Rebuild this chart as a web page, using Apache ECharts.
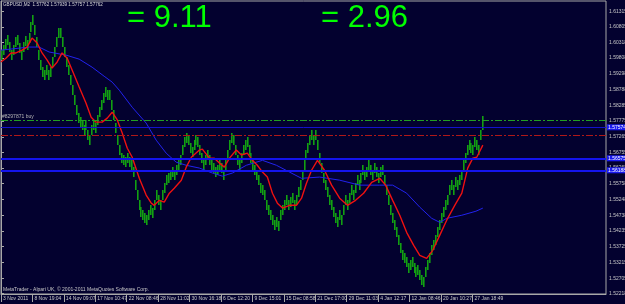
<!DOCTYPE html>
<html><head><meta charset="utf-8">
<script src="https://cdn.jsdelivr.net/npm/echarts@6/dist/echarts.min.js"></script>
<style>html,body{margin:0;padding:0;background:#03012f;}#c{width:625px;height:304px;}</style>
</head><body><div id="c"></div>
<script>
const titleText = 'GBPUSD,M2  1.57762 1.57939 1.57757 1.57762';
const bigTexts = ['= 9.11', '= 2.96'];
const copyrightText = 'MetaTrader - Alpari UK, \u00a9 2001-2011 MetaQuotes Software Corp.';
const orderLabel = '#8297871 buy';

const dateLabels = ['3 Nov 2011','8 Nov 19:04','14 Nov 09:07','17 Nov 10:47','22 Nov 08:46','28 Nov 11:02','30 Nov 16:18','6 Dec 12:20','9 Dec 15:01','15 Dec 08:58','21 Dec 17:00','29 Dec 11:03','4 Jan 12:17','12 Jan 08:46','20 Jan 10:27','27 Jan 18:49'];
const dateIndex = [0,16,32,48,64,80,96,112,128,144,160,176,192,208,224,240];
const yTicks = [1.52218,1.52705,1.53215,1.53725,1.54235,1.54738,1.55248,1.55758,1.56268,1.56755,1.57265,1.57775,1.58285,1.58788,1.59298,1.59808,1.60318,1.60805,1.61315];

const barLow = [
1.5974,1.5990,1.6010,1.6023,1.6000,1.5974,1.5990,1.6016,1.6023,1.5997,
1.5974,1.6000,1.6019,1.6006,1.6029,1.6064,1.6087,1.6055,1.6016,1.5974,
1.5942,1.5919,1.5910,1.5926,1.5910,1.5919,1.5952,1.5984,1.6016,1.6045,
1.6045,1.6016,1.5984,1.5952,1.5926,1.5894,1.5861,1.5829,1.5797,1.5771,
1.5758,1.5748,1.5732,1.5748,1.5716,1.5700,1.5732,1.5748,1.5739,1.5765,
1.5790,1.5813,1.5835,1.5855,1.5845,1.5845,1.5813,1.5781,1.5739,1.5700,
1.5668,1.5642,1.5635,1.5629,1.5642,1.5629,1.5619,1.5597,1.5555,1.5523,
1.5490,1.5468,1.5458,1.5448,1.5442,1.5458,1.5474,1.5465,1.5490,1.5523,
1.5506,1.5490,1.5523,1.5545,1.5571,1.5577,1.5587,1.5597,1.5587,1.5603,
1.5619,1.5635,1.5668,1.5694,1.5706,1.5700,1.5674,1.5661,1.5684,1.5700,
1.5694,1.5668,1.5642,1.5619,1.5635,1.5652,1.5635,1.5619,1.5610,1.5597,
1.5603,1.5619,1.5610,1.5587,1.5619,1.5652,1.5684,1.5706,1.5700,1.5668,
1.5635,1.5619,1.5642,1.5668,1.5684,1.5694,1.5668,1.5642,1.5619,1.5603,
1.5587,1.5571,1.5545,1.5539,1.5523,1.5490,1.5474,1.5458,1.5442,1.5426,
1.5436,1.5423,1.5458,1.5474,1.5490,1.5506,1.5490,1.5500,1.5513,1.5490,
1.5506,1.5532,1.5555,1.5587,1.5619,1.5652,1.5674,1.5700,1.5716,1.5700,
1.5716,1.5684,1.5642,1.5610,1.5577,1.5555,1.5532,1.5506,1.5490,1.5468,
1.5448,1.5436,1.5458,1.5442,1.5474,1.5506,1.5490,1.5513,1.5539,1.5523,
1.5545,1.5571,1.5555,1.5577,1.5603,1.5587,1.5597,1.5619,1.5603,1.5587,
1.5610,1.5597,1.5577,1.5597,1.5603,1.5571,1.5539,1.5506,1.5474,1.5448,
1.5426,1.5403,1.5377,1.5352,1.5329,1.5319,1.5306,1.5287,1.5297,1.5306,
1.5287,1.5274,1.5281,1.5264,1.5248,1.5242,1.5274,1.5297,1.5319,1.5345,
1.5361,1.5377,1.5403,1.5426,1.5448,1.5468,1.5490,1.5506,1.5539,1.5555,
1.5539,1.5564,1.5555,1.5571,1.5587,1.5619,1.5642,1.5668,1.5684,1.5674,
1.5668,1.5694,1.5684,1.5668,1.5716,1.5750];
const barHigh = [
1.6006,1.6022,1.6042,1.6055,1.6032,1.6006,1.6022,1.6048,1.6055,1.6029,
1.6006,1.6032,1.6051,1.6038,1.6061,1.6096,1.6119,1.6087,1.6048,1.6006,
1.5974,1.5951,1.5942,1.5958,1.5942,1.5951,1.5984,1.6016,1.6048,1.6077,
1.6077,1.6048,1.6016,1.5984,1.5958,1.5926,1.5893,1.5861,1.5829,1.5803,
1.5790,1.5780,1.5764,1.5780,1.5748,1.5732,1.5764,1.5780,1.5771,1.5797,
1.5822,1.5845,1.5867,1.5887,1.5877,1.5877,1.5845,1.5813,1.5771,1.5732,
1.5700,1.5674,1.5667,1.5661,1.5674,1.5661,1.5651,1.5629,1.5587,1.5555,
1.5522,1.5500,1.5490,1.5480,1.5474,1.5490,1.5506,1.5497,1.5522,1.5555,
1.5538,1.5522,1.5555,1.5577,1.5603,1.5609,1.5619,1.5629,1.5619,1.5635,
1.5651,1.5667,1.5700,1.5726,1.5738,1.5732,1.5706,1.5693,1.5716,1.5732,
1.5726,1.5700,1.5674,1.5651,1.5667,1.5684,1.5667,1.5651,1.5642,1.5629,
1.5635,1.5651,1.5642,1.5619,1.5651,1.5684,1.5716,1.5738,1.5732,1.5700,
1.5667,1.5651,1.5674,1.5700,1.5716,1.5726,1.5700,1.5674,1.5651,1.5635,
1.5619,1.5603,1.5577,1.5571,1.5555,1.5522,1.5506,1.5490,1.5474,1.5458,
1.5468,1.5455,1.5490,1.5506,1.5522,1.5538,1.5522,1.5532,1.5545,1.5522,
1.5538,1.5564,1.5587,1.5619,1.5651,1.5684,1.5706,1.5732,1.5748,1.5732,
1.5748,1.5716,1.5674,1.5642,1.5609,1.5587,1.5564,1.5538,1.5522,1.5500,
1.5480,1.5468,1.5490,1.5474,1.5506,1.5538,1.5522,1.5545,1.5571,1.5555,
1.5577,1.5603,1.5587,1.5609,1.5635,1.5619,1.5629,1.5651,1.5635,1.5619,
1.5642,1.5629,1.5609,1.5629,1.5635,1.5603,1.5571,1.5538,1.5506,1.5480,
1.5458,1.5435,1.5409,1.5384,1.5361,1.5351,1.5338,1.5319,1.5329,1.5338,
1.5319,1.5306,1.5313,1.5296,1.5280,1.5274,1.5306,1.5329,1.5351,1.5377,
1.5393,1.5409,1.5435,1.5458,1.5480,1.5500,1.5522,1.5538,1.5571,1.5587,
1.5571,1.5596,1.5587,1.5603,1.5619,1.5651,1.5674,1.5700,1.5716,1.5706,
1.5700,1.5726,1.5716,1.5700,1.5748,1.5794];

// [bar index, price]
const redMA = [[0,1.5968],[2.5,1.5980],[5.1,1.5997],[7.6,1.5997],[10.7,1.6006],[13.3,1.6016],[15.8,1.6045],[18.4,1.6029],[20.9,1.5997],[23.5,1.5974],[26,1.5948],[28.6,1.5968],[31.1,1.5997],[33.7,1.5980],[36.2,1.5942],[39.8,1.5887],[43.3,1.5835],[45.9,1.5790],[48.4,1.5774],[51.5,1.5774],[54.1,1.5787],[56.6,1.5806],[59.2,1.5781],[61.7,1.5739],[64.3,1.5690],[66.8,1.5661],[70.4,1.5593],[73.9,1.5539],[76.5,1.5513],[78,1.5506],[80.6,1.5522],[83.1,1.5516],[85.7,1.5545],[88.2,1.5561],[91.8,1.5587],[94.3,1.5629],[96.9,1.5661],[101,1.5684],[102.5,1.5687],[106.1,1.5658],[108.6,1.5658],[111.2,1.5642],[113.7,1.5629],[116.3,1.5658],[119.8,1.5684],[122.4,1.5668],[125.4,1.5674],[128,1.5651],[130.5,1.5635],[133.1,1.5613],[135.6,1.5597],[138.2,1.5545],[140.7,1.5513],[143.3,1.5497],[146.9,1.5506],[150.4,1.5506],[153,1.5529],[155.5,1.5577],[158.1,1.5619],[161.1,1.5651],[164.7,1.5619],[168.3,1.5571],[172.4,1.5529],[176.4,1.5506],[180.5,1.5522],[184.6,1.5545],[188.7,1.5580],[192.8,1.5593],[195.8,1.5571],[199.4,1.5522],[203,1.5474],[206.5,1.5419],[210.1,1.5377],[213.2,1.5345],[216.7,1.5335],[219.8,1.5361],[223.4,1.5410],[226.9,1.5458],[231,1.5506],[234.6,1.5545],[237.6,1.5626],[240.2,1.5658],[242.2,1.5661],[245.3,1.5700]];
const blueMA = [[0,1.6006],[14.3,1.6016],[19.4,1.6016],[24.5,1.6000],[33.1,1.5990],[39.8,1.5977],[46.4,1.5951],[52.5,1.5922],[56.6,1.5903],[60.2,1.5877],[66.8,1.5822],[73.9,1.5771],[79,1.5716],[84.1,1.5674],[89.2,1.5645],[94.3,1.5635],[101,1.5626],[107.6,1.5610],[112.7,1.5600],[117.8,1.5610],[124.9,1.5635],[133.1,1.5651],[140.2,1.5635],[146.9,1.5613],[153,1.5593],[162.2,1.5597],[172.4,1.5587],[182.6,1.5571],[192.8,1.5571],[199.4,1.5571],[206.5,1.5545],[213.2,1.5500],[219.3,1.5464],[223.4,1.5451],[226.9,1.5464],[234.6,1.5474],[241.8,1.5487],[245.3,1.5497]];

const buyLevel = 1.57799, stopLevel = 1.57316, bidPrice = 1.57762;
const blueThin = 1.57574, blueThick = [1.56575, 1.56188];

const chart = echarts.init(document.getElementById('c'), null, {renderer: 'canvas'});
const FONT = 'Liberation Sans';
const bars = barLow.map((lo, i) => [i, lo, barHigh[i]]);
const boxLabel = (bg, fg) => ({show: true, position: 'end', distance: 1, fontSize: 5, fontFamily: FONT, color: fg, backgroundColor: bg, padding: [1, 3, 0, 1], formatter: p => Number(p.value).toFixed(5)});

chart.setOption({
  animation: false,
  backgroundColor: '#03012f',
  grid: {left: 1, top: 1, right: 19, bottom: 10, show: true, borderColor: '#a8a8a8', borderWidth: 1, containLabel: false, outerBoundsMode: 'none'},
  xAxis: {type: 'value', min: 0, max: 308,
    axisLine: {show: true, lineStyle: {color: '#a8a8a8'}},
    axisTick: {show: true, customValues: dateIndex, length: 8, lineStyle: {color: '#a8a8a8'}},
    axisLabel: {customValues: dateIndex, formatter: v => dateLabels[dateIndex.indexOf(v)] || '', align: 'left', margin: 2, padding: [0,0,0,2], fontSize: 5, fontFamily: FONT, color: '#c8c8c8'},
    splitLine: {show: false}},
  yAxis: {type: 'value', position: 'right', min: 1.52202, max: 1.61644,
    axisLine: {show: true, lineStyle: {color: '#a8a8a8'}},
    axisTick: {show: true, customValues: yTicks, length: 3, lineStyle: {color: '#a8a8a8'}},
    axisLabel: {customValues: yTicks, formatter: v => v.toFixed(5), margin: 3, fontSize: 5, fontFamily: FONT, color: '#c8c8c8'},
    splitLine: {show: false}},
  series: [
    {type: 'custom', data: bars, silent: true, z: 2,
      encode: {x: 0, y: [1, 2]},
      renderItem: (params, api) => {
        const x = api.value(0);
        const a = api.coord([x, api.value(2)]);
        const b = api.coord([x, api.value(1)]);
        return {type: 'rect', shape: {x: Math.round(a[0]), y: Math.round(a[1]), width: 1.6, height: Math.max(1, Math.round(b[1] - a[1]))}, style: {fill: '#12a012'}};
      }},
    {type: 'line', data: redMA, showSymbol: false, silent: true, z: 4, lineStyle: {color: '#ee1111', width: 1.4}},
    {type: 'line', data: blueMA, showSymbol: false, silent: true, z: 3, lineStyle: {color: '#2222ee', width: 1},
      markLine: {silent: true, symbol: ['none', 'none'], animation: false, precision: 5,
        data: [
          {yAxis: buyLevel, lineStyle: {color: '#22a022', width: 1, type: [7, 2, 2, 2]}, label: {show: true, position: 'insideStartTop', distance: 1, formatter: orderLabel, fontSize: 5, fontFamily: FONT, color: '#b8b8b8'}},
          {yAxis: stopLevel, lineStyle: {color: '#b01818', width: 1, type: [7, 2, 2, 2]}, label: {show: false}},
          {yAxis: blueThin, lineStyle: {color: '#1212cc', width: 1, type: 'solid'}, label: boxLabel('#1a1aee', '#ffffff')},
          {yAxis: blueThick[0], lineStyle: {color: '#1414ee', width: 2, type: 'solid'}, label: boxLabel('#1a1aee', '#ffffff')},
          {yAxis: blueThick[1], lineStyle: {color: '#1414ee', width: 2, type: 'solid'}, label: boxLabel('#1a1aee', '#ffffff')},
          {yAxis: bidPrice, lineStyle: {opacity: 0}, label: boxLabel('#ffffff', '#000000')}
        ]}}
  ],
  graphic: [
    {type: 'text', x: 3, y: 5, style: {text: titleText, fill: '#d8d8d8', fontSize: 4.6, fontFamily: FONT, verticalAlign: 'middle'}},
    {type: 'text', x: 127, y: 18, style: {text: bigTexts[0], fill: '#00ff00', fontSize: 31, fontFamily: FONT, verticalAlign: 'middle'}},
    {type: 'text', x: 321, y: 18, style: {text: bigTexts[1], fill: '#00ff00', fontSize: 31, fontFamily: FONT, verticalAlign: 'middle'}},
    {type: 'text', x: 3, y: 290, style: {text: copyrightText, fill: '#c8c8c8', fontSize: 5, fontFamily: FONT, verticalAlign: 'middle'}}
  ]
});
</script></body></html>
